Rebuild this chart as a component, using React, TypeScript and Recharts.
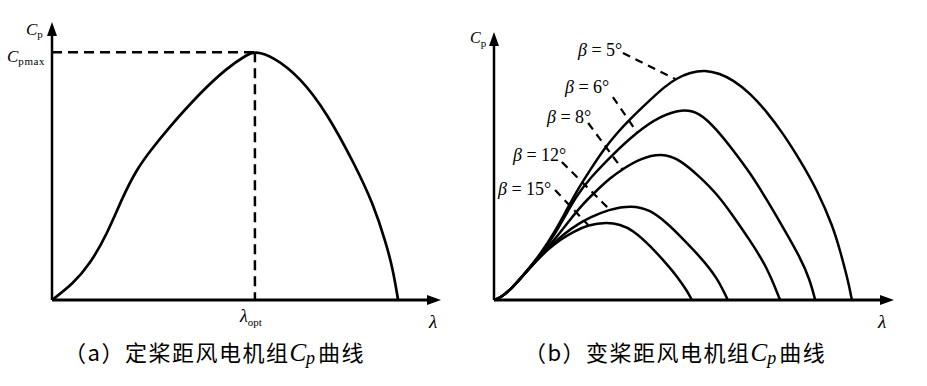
import React from "react";
import { LineChart, Line, XAxis, YAxis, ReferenceLine, ReferenceDot } from "recharts";

// ---- panel (a): fixed pitch ----
const LAMBDA_A = [0, 0.54, 0.98, 1.42, 1.83, 2.19, 2.53, 2.96, 3.81, 4.51, 5.03, 5.23, 5.7, 6.39, 7.09, 7.81, 8.27, 8.61, 8.79, 8.92];
const CP_A = [0, 0.058, 0.13, 0.238, 0.375, 0.473, 0.538, 0.614, 0.747, 0.838, 0.886, 0.898, 0.879, 0.805, 0.675, 0.487, 0.35, 0.206, 0.108, 0];
const LAMBDA_OPT = 5.23;
const CP_MAX = 0.894;

// ---- panel (b): variable pitch ----
const L_B5 = [0, 0.15, 0.4, 0.73, 1.15, 1.53, 1.78, 2.08, 2.41, 2.73, 3.06, 3.41, 3.91, 4.29, 4.59, 4.91, 5.29, 5.66, 5.99, 6.42, 6.84, 7.24, 7.67, 8.1, 8.5, 8.67, 8.87, 8.97];
const CP_B5 = [0, 0.008, 0.036, 0.092, 0.168, 0.258, 0.326, 0.41, 0.487, 0.56, 0.622, 0.678, 0.749, 0.801, 0.831, 0.852, 0.862, 0.848, 0.824, 0.775, 0.704, 0.625, 0.524, 0.412, 0.273, 0.187, 0.075, 0];
const L_B6 = [0, 0.15, 0.4, 0.73, 1.15, 1.55, 1.78, 2.08, 2.41, 2.96, 3.58, 4.16, 4.71, 5.16, 5.59, 5.99, 6.42, 6.84, 7.24, 7.67, 7.92, 8.05];
const CP_B6 = [0, 0.008, 0.036, 0.092, 0.167, 0.251, 0.315, 0.393, 0.457, 0.543, 0.629, 0.688, 0.716, 0.702, 0.637, 0.562, 0.476, 0.375, 0.273, 0.161, 0.075, 0];
const L_B8 = [0, 0.15, 0.4, 0.73, 1.15, 1.53, 1.9, 2.23, 2.53, 2.91, 3.23, 3.66, 4.21, 4.66, 5.16, 5.59, 5.99, 6.42, 6.84, 7.17];
const CP_B8 = [0, 0.008, 0.036, 0.092, 0.164, 0.228, 0.3, 0.36, 0.404, 0.457, 0.491, 0.53, 0.551, 0.526, 0.461, 0.397, 0.316, 0.222, 0.124, 0];
const L_B12 = [0, 0.15, 0.4, 0.73, 1.15, 1.4, 1.78, 2.11, 2.41, 2.86, 3.46, 3.91, 4.34, 4.74, 5.16, 5.59, 5.86];
const CP_B12 = [0, 0.008, 0.036, 0.092, 0.162, 0.199, 0.251, 0.285, 0.309, 0.339, 0.355, 0.338, 0.288, 0.228, 0.163, 0.085, 0];
const L_B15 = [0, 0.15, 0.4, 0.73, 1.15, 1.4, 1.65, 1.98, 2.36, 2.83, 3.16, 3.48, 3.91, 4.34, 4.59, 4.84, 4.96];
const CP_B15 = [0, 0.008, 0.036, 0.092, 0.161, 0.195, 0.225, 0.255, 0.282, 0.291, 0.283, 0.262, 0.204, 0.133, 0.088, 0.034, 0];

const BETA_LABELS = ["β = 5°", "β = 6°", "β = 8°", "β = 12°", "β = 15°"];
// leader lines: [λ start, Cp start, λ end, Cp end]
const LEADERS = [
  [3.23, 0.925, 4.54, 0.828],
  [2.98, 0.76, 3.58, 0.629],
  [2.36, 0.663, 3.23, 0.487],
  [1.7, 0.517, 2.91, 0.337],
  [1.53, 0.412, 2.36, 0.281],
];

const zip = (xs: number[], ys: number[]) => xs.map((x, i) => ({ x, y: ys[i] }));
const dataA = zip(LAMBDA_A, CP_A);
const seriesB = [zip(L_B5, CP_B5), zip(L_B6, CP_B6), zip(L_B8, CP_B8), zip(L_B12, CP_B12), zip(L_B15, CP_B15)];

const ArrowRight = (p: any) => (
  <path d={`M${p.cx + 1},${p.cy} L${p.cx - 13},${p.cy - 5} L${p.cx - 13},${p.cy + 5} Z`} fill="#000" />
);
const ArrowUp = (p: any) => (
  <path d={`M${p.cx},${p.cy - 1} L${p.cx - 5},${p.cy + 13} L${p.cx + 5},${p.cy + 13} Z`} fill="#000" />
);

const serif = "'Liberation Serif', 'Times New Roman', serif";
const cjk = "'Noto Sans CJK SC', sans-serif";

export default function App() {
  const axes = (xMax: number, yMax: number) => [
    <ReferenceLine key="ax" segment={[{ x: 0, y: 0 }, { x: xMax - 0.2, y: 0 }]} stroke="#000" strokeWidth={3} ifOverflow="visible" />,
    <ReferenceLine key="ay" segment={[{ x: 0, y: 0 }, { x: 0, y: yMax - 0.02 }]} stroke="#000" strokeWidth={2.5} ifOverflow="visible" />,
    <ReferenceDot key="arx" x={xMax} y={0} r={0} shape={ArrowRight} ifOverflow="visible" />,
    <ReferenceDot key="ary" x={0} y={yMax} r={0} shape={ArrowUp} ifOverflow="visible" />,
  ];
  return (
    <div style={{ position: "absolute", left: 0, top: 0, width: 927, height: 386, background: "#fff" }}>
      <div style={{ position: "absolute", left: 0, top: 0 }}>
        <LineChart width={460} height={386} data={dataA} margin={{ top: 23, right: 20, bottom: 86, left: 52 }}>
          <XAxis dataKey="x" type="number" domain={[0, 10]} hide />
          <YAxis type="number" domain={[0, 1]} hide />
          <ReferenceLine segment={[{ x: 0, y: CP_MAX }, { x: LAMBDA_OPT, y: CP_MAX }]} stroke="#000" strokeWidth={2.5} strokeDasharray="10 6" />
          <ReferenceLine segment={[{ x: LAMBDA_OPT, y: CP_MAX }, { x: LAMBDA_OPT, y: 0 }]} stroke="#000" strokeWidth={2.5} strokeDasharray="10 6" />
          <Line dataKey="y" type="basis" dot={false} stroke="#000" strokeWidth={2.7} isAnimationActive={false} />
          {axes(10, 1)}
        </LineChart>
      </div>
      <div style={{ position: "absolute", left: 463, top: 0 }}>
        <LineChart width={464} height={386} margin={{ top: 33, right: 34, bottom: 86, left: 31 }}>
          <XAxis dataKey="x" type="number" domain={[0, 10]} hide allowDuplicatedCategory={false} />
          <YAxis type="number" domain={[0, 1]} hide />
          {LEADERS.map((l, i) => (
            <ReferenceLine key={"l" + i} segment={[{ x: l[0], y: l[1] }, { x: l[2], y: l[3] }]} stroke="#000" strokeWidth={2.2} strokeDasharray="8 6" />
          ))}
          {seriesB.map((d, i) => (
            <Line key={i} data={d} dataKey="y" type="basis" dot={false} stroke="#000" strokeWidth={2.5} isAnimationActive={false} />
          ))}
          {axes(10, 1)}
        </LineChart>
      </div>
      <svg width={927} height={386} style={{ position: "absolute", left: 0, top: 0, pointerEvents: "none" }}>
        <g fontFamily={serif} fill="#000">
          <text x={26} y={35}>
            <tspan fontStyle="italic" fontSize={17}>C</tspan>
            <tspan fontSize={11} dy={3}>p</tspan>
          </text>
          <text x={7} y={62}>
            <tspan fontStyle="italic" fontSize={17}>C</tspan>
            <tspan fontSize={11} dy={3} letterSpacing={0.6}>pmax</tspan>
          </text>
          <text x={240} y={322}>
            <tspan fontStyle="italic" fontSize={18}>λ</tspan>
            <tspan fontSize={11} dy={4}>opt</tspan>
          </text>
          <text x={429} y={328} fontStyle="italic" fontSize={19}>λ</text>
          <text x={470} y={43}>
            <tspan fontStyle="italic" fontSize={16}>C</tspan>
            <tspan fontSize={11} dy={4}>p</tspan>
          </text>
          <text x={878} y={328} fontStyle="italic" fontSize={19}>λ</text>
          {BETA_LABELS.map((t, i) => {
            const pos = [[578, 56], [565, 93], [547, 123], [513, 161], [498, 195]][i];
            const [b, rest] = [t.slice(0, 1), t.slice(1)];
            return (
              <text key={t} x={pos[0]} y={pos[1]} fontSize={18}>
                <tspan fontStyle="italic">{b}</tspan>
                <tspan>{rest}</tspan>
              </text>
            );
          })}
        </g>
        <text x={64} y={361} fontSize={22} letterSpacing={1.5} fontFamily={cjk} fill="#000">
          <tspan>（a）定桨距风电机组</tspan>
          <tspan fontFamily={serif} fontStyle="italic" fontSize={25} letterSpacing={0}>C</tspan>
          <tspan fontFamily={serif} fontStyle="italic" fontSize={18} dy={3} letterSpacing={0}>p</tspan>
          <tspan dy={-3} dx={3}>曲线</tspan>
        </text>
        <text x={524} y={361} fontSize={22} letterSpacing={1.5} fontFamily={cjk} fill="#000">
          <tspan>（b）变桨距风电机组</tspan>
          <tspan fontFamily={serif} fontStyle="italic" fontSize={25} letterSpacing={0}>C</tspan>
          <tspan fontFamily={serif} fontStyle="italic" fontSize={18} dy={3} letterSpacing={0}>p</tspan>
          <tspan dy={-3} dx={3}>曲线</tspan>
        </text>
      </svg>
    </div>
  );
}
